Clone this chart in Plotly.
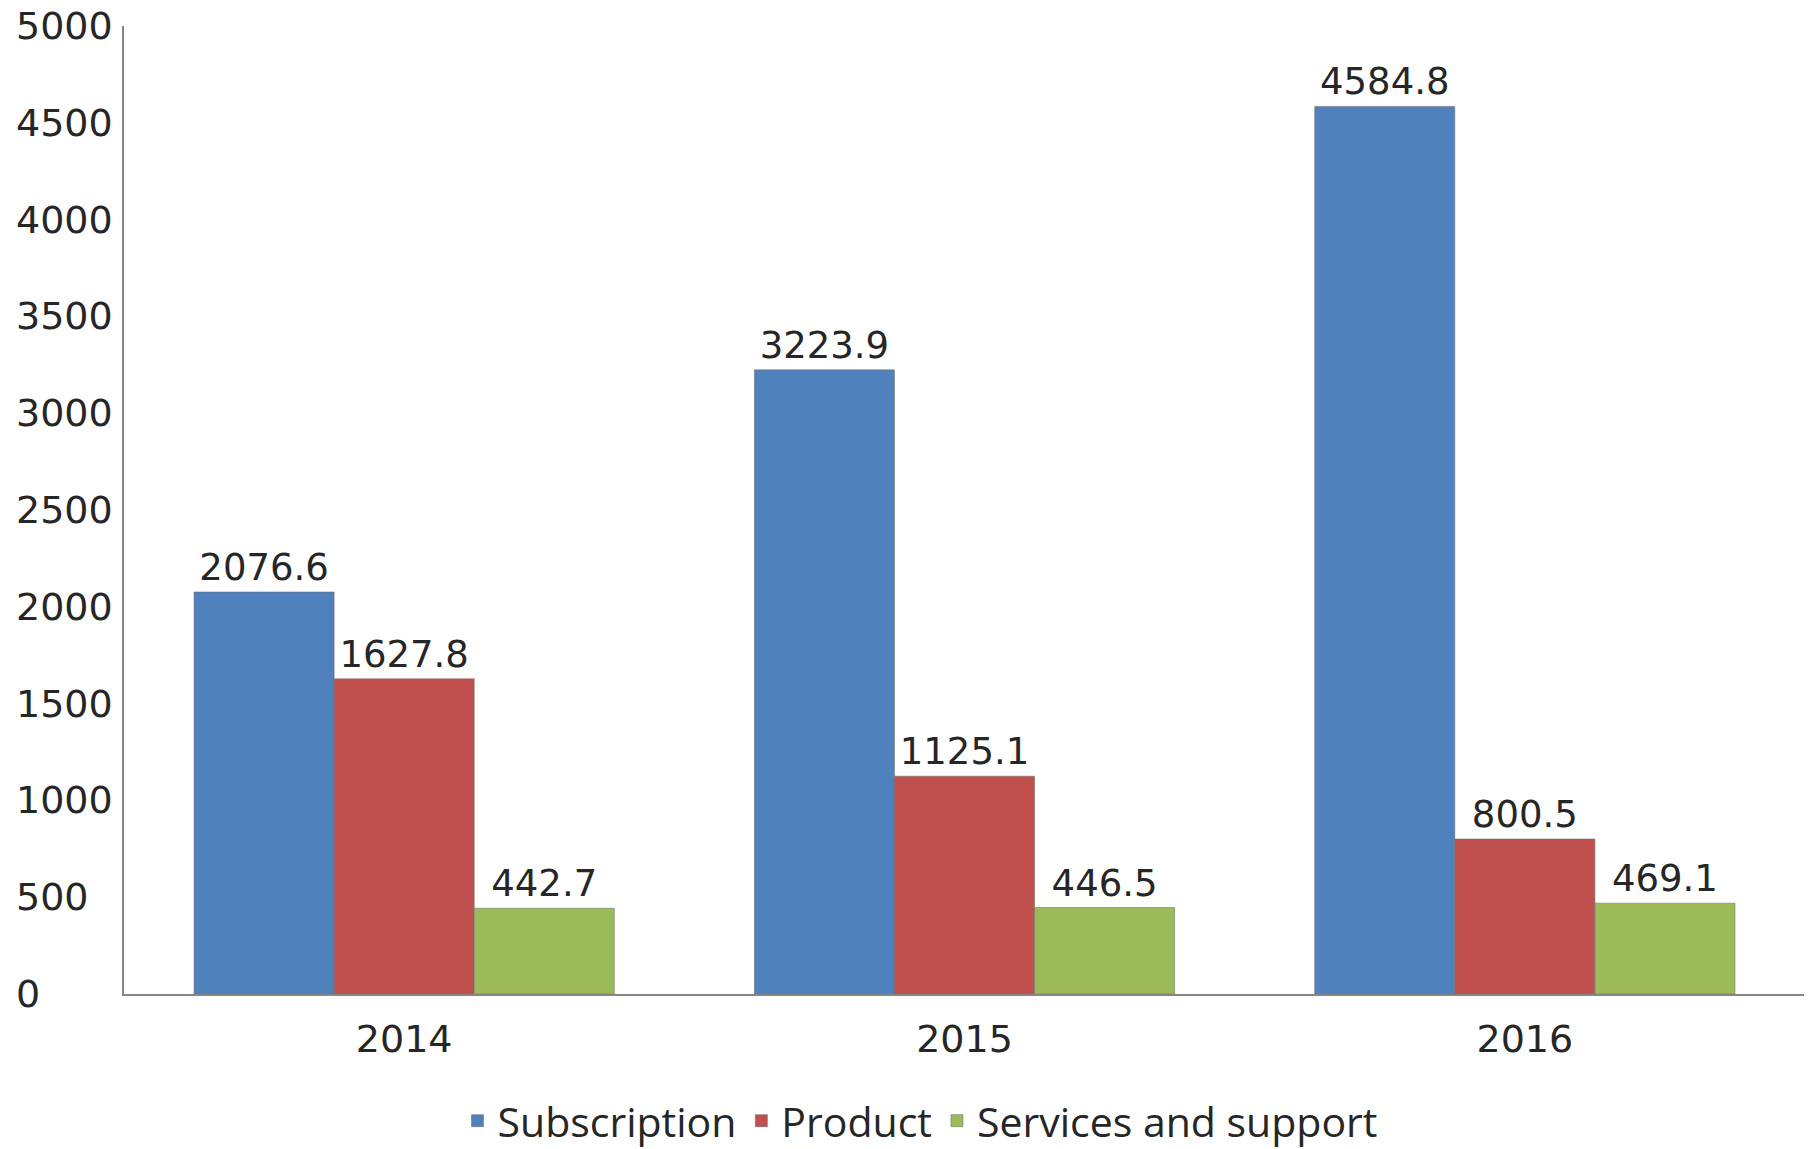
import plotly.graph_objects as go

years = ["2014", "2015", "2016"]
subscription = [2076.6, 3223.9, 4584.8]
product = [1627.8, 1125.1, 800.5]
services = [442.7, 446.5, 469.1]
series_names = ["Subscription", "Product", "Services and support"]
colors = ["#4F81BD", "#C0504D", "#9BBB59"]
y_ticks = [0, 500, 1000, 1500, 2000, 2500, 3000, 3500, 4000, 4500, 5000]

W, H = 1812, 1149
L, R, T, B = 116, 15, 18, 163
PW, PH = W - L - R, H - T - B
txt_font = "DejaVu Sans"
txt_color = "#262626"

fig = go.Figure()
for name, vals, col in zip(series_names, [subscription, product, services], colors):
    fig.add_trace(go.Bar(
        x=years, y=vals, name=name,
        marker=dict(color=col, line=dict(color="rgba(110,110,110,0.55)", width=1)),
        text=[f"{v:.1f}" for v in vals], textposition="outside",
        textfont=dict(family=txt_font, size=37, color=txt_color),
        cliponaxis=False,
    ))

# left-aligned y tick labels
for v in y_ticks:
    fig.add_annotation(
        x=(6 - L) / PW, xref="paper", xanchor="left",
        y=v, yref="y", yanchor="middle",
        text=str(v), showarrow=False,
        font=dict(family=txt_font, size=38, color=txt_color),
    )

fig.update_layout(
    width=W, height=H,
    margin=dict(l=L, r=R, t=T, b=B, autoexpand=False),
    paper_bgcolor="white", plot_bgcolor="white",
    barmode="group", bargap=0.25, bargroupgap=0,
    showlegend=True,
    legend=dict(
        orientation="h", x=(912 - L) / PW, xanchor="center",
        y=-(1113 - (H - B)) / PH, yanchor="middle",
        font=dict(family="Open Sans", size=41, color=txt_color),
        itemwidth=30, tracegroupgap=0,
        bgcolor="rgba(0,0,0,0)",
    ),
    xaxis=dict(
        showline=True, linecolor="#868686", linewidth=2,
        showgrid=False, ticks="", zeroline=False,
        tickfont=dict(family=txt_font, size=38, color=txt_color),
        ticklabelstandoff=10,
    ),
    yaxis=dict(
        range=[0, 5000], showline=True, linecolor="#868686", linewidth=2,
        showgrid=False, zeroline=False, ticks="", showticklabels=False,
        tickvals=y_ticks,
    ),
)

fig.write_html("out.html")
